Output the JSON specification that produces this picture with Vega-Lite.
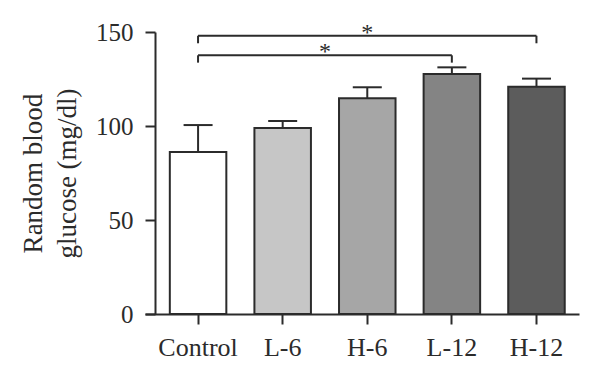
{
  "$schema": "https://vega.github.io/schema/vega-lite/v6.json",
  "width": 434,
  "height": 282,
  "autosize": "none",
  "padding": {"left": 145, "top": 32, "right": 21, "bottom": 63},
  "background": "white",
  "config": {"view": {"stroke": null}},
  "datasets": {
    "groups": [
      {"group": "Control", "mean": 86.2, "upper": 100.5},
      {"group": "L-6", "mean": 98.9, "upper": 102.7},
      {"group": "H-6", "mean": 114.7, "upper": 120.6},
      {"group": "L-12", "mean": 127.7, "upper": 131.2},
      {"group": "H-12", "mean": 120.9, "upper": 125.2}
    ],
    "brackets": [
      {"from": 0, "to": 4, "level": 148.0, "drop": 144.0, "mid": 2.0, "star": "*", "starY": 145.6},
      {"from": 0, "to": 3, "level": 137.6, "drop": 133.7, "mid": 1.5, "star": "*", "starY": 135.5}
    ]
  },
  "resolve": {"scale": {"x": "independent"}, "axis": {"x": "independent"}},
  "layer": [
    {
      "data": {"name": "groups"},
      "encoding": {
        "x": {
          "field": "group", "type": "nominal", "sort": null,
          "scale": {"paddingInner": 0.332, "paddingOuter": 0.231, "align": 0.635},
          "axis": {
            "title": null, "labelAngle": 0, "bandPosition": 0.5,
            "labelFont": "Liberation Serif", "labelFontSize": 26, "labelColor": "#2b2b2b",
            "labelPadding": 10,
            "domainColor": "#2b2b2b", "domainWidth": 2,
            "tickColor": "#2b2b2b", "tickWidth": 2, "tickSize": 10
          }
        }
      },
      "layer": [
        {
          "mark": {"type": "rule", "color": "#2b2b2b", "strokeWidth": 2},
          "encoding": {
            "y": {"field": "mean", "type": "quantitative"},
            "y2": {"field": "upper"}
          }
        },
        {
          "mark": {"type": "bar", "stroke": "#2b2b2b", "strokeWidth": 2},
          "encoding": {
            "y": {
              "field": "mean", "type": "quantitative",
              "scale": {"domain": [0, 150], "nice": false},
              "axis": {
                "values": [0, 50, 100, 150], "grid": false, "offset": -10,
                "title": ["Random blood", "glucose (mg/dl)"],
                "titleFont": "Liberation Serif", "titleFontSize": 27, "titleFontWeight": "normal",
                "titleColor": "#2b2b2b", "titleLineHeight": 34, "titlePadding": 14,
                "labelFont": "Liberation Serif", "labelFontSize": 25, "labelColor": "#2b2b2b",
                "labelPadding": 12,
                "domainColor": "#2b2b2b", "domainWidth": 2,
                "tickColor": "#2b2b2b", "tickWidth": 2, "tickSize": 10
              }
            },
            "color": {
              "field": "group", "type": "nominal", "sort": null, "legend": null,
              "scale": {
                "domain": ["Control", "L-6", "H-6", "L-12", "H-12"],
                "range": ["#ffffff", "#c6c6c6", "#a6a6a6", "#848484", "#5c5c5c"]
              }
            }
          }
        },
        {
          "mark": {"type": "tick", "orient": "horizontal", "size": 29, "thickness": 2, "color": "#2b2b2b", "opacity": 1},
          "encoding": {
            "y": {"field": "upper", "type": "quantitative"}
          }
        }
      ]
    },
    {
      "data": {"name": "brackets"},
      "encoding": {},
      "layer": [
        {
          "mark": {"type": "rule", "color": "#2b2b2b", "strokeWidth": 2},
          "encoding": {
            "x": {"field": "from", "type": "quantitative", "scale": {"domain": [-0.627, 4.503], "nice": false, "zero": false}, "axis": null},
            "x2": {"field": "to"},
            "y": {"field": "level", "type": "quantitative"}
          }
        },
        {
          "mark": {"type": "rule", "color": "#2b2b2b", "strokeWidth": 2},
          "encoding": {
            "x": {"field": "from", "type": "quantitative"},
            "y": {"field": "level", "type": "quantitative"},
            "y2": {"field": "drop"}
          }
        },
        {
          "mark": {"type": "rule", "color": "#2b2b2b", "strokeWidth": 2},
          "encoding": {
            "x": {"field": "to", "type": "quantitative"},
            "y": {"field": "level", "type": "quantitative"},
            "y2": {"field": "drop"}
          }
        },
        {
          "mark": {"type": "text", "font": "Liberation Serif", "fontSize": 24, "color": "#2b2b2b", "baseline": "alphabetic", "align": "center"},
          "encoding": {
            "x": {"field": "mid", "type": "quantitative"},
            "y": {"field": "starY", "type": "quantitative"},
            "text": {"field": "star"}
          }
        }
      ]
    }
  ]
}
